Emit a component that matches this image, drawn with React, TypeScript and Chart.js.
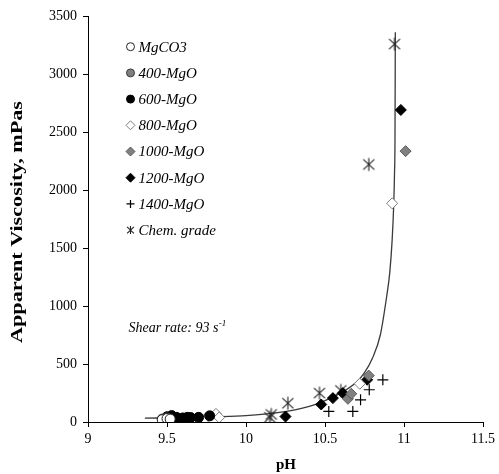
import React, { useEffect, useRef } from 'react';
import { Chart, registerables } from 'chart.js';

Chart.register(...registerables);

// ---- data ----
const seriesNames = ['MgCO3', '400-MgO', '600-MgO', '800-MgO', '1000-MgO', '1200-MgO', '1400-MgO', 'Chem. grade'];

const mgco3PH = [9.47, 9.5, 9.52];
const mgco3Visc = [20, 30, 25];
const mgo400PH = [9.47, 9.49, 9.5];
const mgo400Visc = [25, 15, 35];
const mgo600PH = [9.5, 9.53, 9.56, 9.6, 9.63, 9.65, 9.7, 9.77];
const mgo600Visc = [45, 55, 40, 35, 40, 38, 40, 53];
const mgo800PH = [9.48, 9.74, 9.81, 9.83, 10.72, 10.925];
const mgo800Visc = [20, 24, 70, 39, 330, 1885];
const mgo1000PH = [10.645, 10.666, 10.777, 11.01];
const mgo1000Visc = [200, 243, 400, 2335];
const mgo1200PH = [10.25, 10.476, 10.55, 10.613, 10.767, 10.98];
const mgo1200Visc = [47, 151, 206, 249, 364, 2690];
const mgo1400PH = [10.524, 10.676, 10.725, 10.78, 10.866];
const mgo1400Visc = [91, 91, 191, 278, 364];
const chemPH = [10.15, 10.16, 10.265, 10.465, 10.6, 10.777, 10.94];
const chemVisc = [40, 65, 162, 249, 272, 2220, 3258];

const fitPH = [9.36, 9.6, 9.8, 10.0, 10.2, 10.4, 10.5, 10.6, 10.7, 10.75, 10.8, 10.85, 10.89, 10.91, 10.925, 10.935, 10.94, 10.943, 10.945];
const fitVisc = [33, 38, 45, 55, 80, 135, 185, 250, 345, 425, 550, 750, 1080, 1290, 1570, 1880, 2150, 2450, 3360];

const xTicks = [9, 9.5, 10, 10.5, 11, 11.5];
const yTicks = [0, 500, 1000, 1500, 2000, 2500, 3000, 3500];

const SERIF = '"Liberation Serif", "Times New Roman", serif';

type Kind = 'circle' | 'diamond' | 'cross' | 'asterisk';

const markerStyles: { kind: Kind; fill: string; stroke: string; lw: number }[] = [
  { kind: 'circle', fill: '#ffffff', stroke: '#222222', lw: 1 },
  { kind: 'circle', fill: '#7f7f7f', stroke: '#3a3a3a', lw: 1 },
  { kind: 'circle', fill: '#000000', stroke: '#000000', lw: 1 },
  { kind: 'diamond', fill: '#ffffff', stroke: '#7f7f7f', lw: 1 },
  { kind: 'diamond', fill: '#808080', stroke: '#5a5a5a', lw: 1 },
  { kind: 'diamond', fill: '#000000', stroke: '#000000', lw: 1 },
  { kind: 'cross', fill: '#000000', stroke: '#000000', lw: 1.2 },
  { kind: 'asterisk', fill: '#222222', stroke: '#222222', lw: 1.1 },
];

function drawMarker(ctx: CanvasRenderingContext2D, kind: Kind, x: number, y: number, r: number, fill: string, stroke: string, lw: number) {
  ctx.save();
  ctx.beginPath();
  ctx.lineWidth = lw;
  ctx.strokeStyle = stroke;
  ctx.fillStyle = fill;
  if (kind === 'circle') {
    ctx.arc(x, y, r, 0, Math.PI * 2);
    ctx.fill();
    ctx.stroke();
  } else if (kind === 'diamond') {
    ctx.moveTo(x, y - r);
    ctx.lineTo(x + r, y);
    ctx.lineTo(x, y + r);
    ctx.lineTo(x - r, y);
    ctx.closePath();
    ctx.fill();
    ctx.stroke();
  } else if (kind === 'cross') {
    ctx.moveTo(x - r, y);
    ctx.lineTo(x + r, y);
    ctx.moveTo(x, y - r);
    ctx.lineTo(x, y + r);
    ctx.stroke();
  } else {
    const dx = r * 0.85;
    const dy = r * 0.8;
    ctx.moveTo(x, y - r);
    ctx.lineTo(x, y + r);
    ctx.moveTo(x - dx, y - dy);
    ctx.lineTo(x + dx, y + dy);
    ctx.moveTo(x - dx, y + dy);
    ctx.lineTo(x + dx, y - dy);
    ctx.stroke();
  }
  ctx.restore();
}

function asteriskImage(r: number): HTMLCanvasElement {
  const c = document.createElement('canvas');
  const s = Math.ceil(r * 2 + 3);
  c.width = s;
  c.height = s;
  const ctx = c.getContext('2d')!;
  drawMarker(ctx, 'asterisk', s / 2, s / 2, r, '#222', '#222', 1.1);
  return c;
}

function pts(xs: number[], ys: number[]) {
  return xs.map((x, i) => ({ x, y: ys[i] }));
}

const overlayPlugin = {
  id: 'overlay',
  afterDraw(chart: any) {
    const ctx: CanvasRenderingContext2D = chart.ctx;
    // legend
    ctx.save();
    ctx.font = 'italic 15px ' + SERIF;
    ctx.fillStyle = '#000';
    ctx.textBaseline = 'middle';
    ctx.textAlign = 'left';
    seriesNames.forEach((name, i) => {
      const y = 46.7 + i * 26.2;
      const m = markerStyles[i];
      const r = m.kind === 'diamond' ? 4.5 : 4;
      drawMarker(ctx, m.kind, 130.5, y, r, m.fill, m.stroke, m.lw);
      ctx.fillText(name, 138.5, y + 1);
    });
    ctx.restore();

    // annotation
    ctx.save();
    ctx.fillStyle = '#000';
    ctx.textBaseline = 'alphabetic';
    ctx.font = 'italic 14px ' + SERIF;
    const main = 'Shear rate: 93 s';
    ctx.fillText(main, 128.5, 332);
    const w = ctx.measureText(main).width;
    ctx.font = 'italic 9px ' + SERIF;
    ctx.fillText('-1', 128.5 + w + 0.5, 326);
    ctx.restore();

    // y title
    ctx.save();
    ctx.font = 'bold 16px ' + SERIF;
    ctx.fillStyle = '#000';
    const t = 'Apparent Viscosity, mPas';
    const tw = ctx.measureText(t).width;
    ctx.translate(18, 222);
    ctx.rotate(-Math.PI / 2);
    ctx.scale(242 / tw, 1);
    ctx.textAlign = 'center';
    ctx.textBaseline = 'middle';
    ctx.fillText(t, 0, 0);
    ctx.restore();

    // x title
    ctx.save();
    ctx.font = 'bold 15px ' + SERIF;
    ctx.fillStyle = '#000';
    ctx.textAlign = 'center';
    ctx.textBaseline = 'middle';
    ctx.fillText('pH', 286, 465);
    ctx.restore();
  },
};

export default function App() {
  const ref = useRef<HTMLCanvasElement | null>(null);

  useEffect(() => {
    if (!ref.current) return;
    const star = asteriskImage(6.5);
    const groups = [
      pts(mgco3PH, mgco3Visc),
      pts(mgo400PH, mgo400Visc),
      pts(mgo600PH, mgo600Visc),
      pts(mgo800PH, mgo800Visc),
      pts(mgo1000PH, mgo1000Visc),
      pts(mgo1200PH, mgo1200Visc),
      pts(mgo1400PH, mgo1400Visc),
      pts(chemPH, chemVisc),
    ];
    const styleMap: Record<Kind, any> = {
      circle: 'circle',
      diamond: 'rectRot',
      cross: 'cross',
      asterisk: star,
    };
    const datasets: any[] = groups.map((data, i) => {
      const m = markerStyles[i];
      return {
        label: seriesNames[i],
        data,
        pointStyle: styleMap[m.kind],
        pointRadius: m.kind === 'circle' ? 5 : 5.5,
        pointBackgroundColor: m.fill,
        pointBorderColor: m.stroke,
        pointBorderWidth: m.lw,
        showLine: false,
      };
    });
    datasets.push({
      label: 'fit',
      data: pts(fitPH, fitVisc),
      showLine: true,
      pointRadius: 0,
      borderColor: '#3a3a3a',
      borderWidth: 1.3,
      cubicInterpolationMode: 'monotone',
      fill: false,
    });

    const chart = new Chart(ref.current, {
      type: 'scatter',
      data: { datasets },
      options: {
        animation: false,
        responsive: false,
        devicePixelRatio: 1,
        events: [],
        layout: { padding: { left: 0, right: 15, top: 16, bottom: 0 } },
        plugins: {
          legend: { display: false },
          tooltip: { enabled: false },
        },
        scales: {
          x: {
            type: 'linear',
            min: 9,
            max: 11.5,
            afterBuildTicks: (scale: any) => {
              scale.ticks = xTicks.map((v) => ({ value: v }));
            },
            afterFit: (scale: any) => {
              scale.height = 52;
            },
            grid: { drawOnChartArea: false, drawTicks: true, tickLength: 5, color: '#000' },
            border: { color: '#000', width: 1 },
            ticks: {
              color: '#000',
              padding: 4,
              maxRotation: 0,
              font: { family: SERIF, size: 14 },
              callback: (v: any) => String(v),
            },
          },
          y: {
            type: 'linear',
            min: 0,
            max: 3500,
            afterBuildTicks: (scale: any) => {
              scale.ticks = yTicks.map((v) => ({ value: v }));
            },
            afterFit: (scale: any) => {
              scale.width = 88;
            },
            grid: { drawOnChartArea: false, drawTicks: true, tickLength: 5, color: '#000' },
            border: { color: '#000', width: 1 },
            ticks: {
              color: '#000',
              padding: 6,
              font: { family: SERIF, size: 14 },
              callback: (v: any) => String(v),
            },
          },
        },
      },
      plugins: [overlayPlugin],
    } as any);
    return () => chart.destroy();
  }, []);

  return (
    <div style={{ position: 'absolute', left: 0, top: 0, width: 499, height: 474, background: '#fff' }}>
      <canvas ref={ref} width={499} height={474} style={{ width: 499, height: 474, display: 'block' }} />
    </div>
  );
}
